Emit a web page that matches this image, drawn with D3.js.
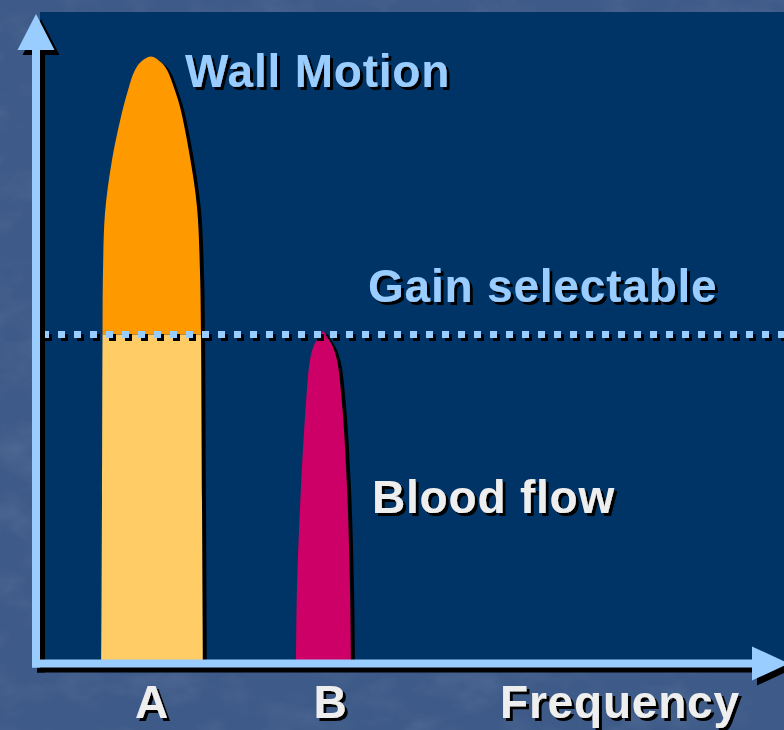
<!DOCTYPE html>
<html>
<head>
<meta charset="utf-8">
<script src="https://cdn.jsdelivr.net/npm/d3@7"></script>
<style>
  html, body { margin: 0; padding: 0; background: #3e5a88; overflow: hidden; }
  svg { display: block; }
  text { font-family: "Liberation Sans", Arial, sans-serif; font-weight: bold; }
</style>
</head>
<body>
<svg></svg>
<script>
// categories on the frequency axis and where their labels sit (frequency units)
const categories = ['A', 'B'];
const categoryFreq = [15.4, 39.2];

// gain threshold (amplitude units, 0-100)
const gainLevel = 50.6;

// outlines of the two spectral peaks: [frequency, amplitude]
const wallMotionProfile = [
  [8.7, 0], [8.8, 25.2], [8.87, 50.85], [8.93, 60.1], [9.2, 69.3], [10.07, 77],
  [11.33, 84.1], [12.27, 88.2], [13.07, 91], [13.93, 92.5], [15.33, 93.4],
  [16.67, 92.5], [17.47, 91.3], [18.27, 89], [19.2, 85.6], [20.53, 77.9],
  [21.47, 70.2], [21.87, 60.1], [22.0, 50.85], [22.13, 25.2], [22.27, 0]
];
const bloodFlowProfile = [
  [34.67, 0], [34.8, 11.77], [35.33, 27.15], [36.0, 40.08], [36.53, 46.7],
  [37.07, 49], [37.73, 50.23], [38.27, 51.1], [38.8, 50.23], [39.47, 49],
  [40.13, 46.7], [40.8, 40.08], [41.47, 27.15], [41.87, 11.77], [42.0, 0]
];

const annotations = ['Wall Motion', 'Gain selectable', 'Blood flow'];
const axisTitle = 'Frequency';

let width = 784;
let height = 730;

let x = d3.scaleLinear().domain([0, 100]).range([36, 786]);
let y = d3.scaleLinear().domain([0, 100]).range([663.5, 13.5]);

let svg = d3.select('svg')
  .attr('width', width)
  .attr('height', height);

let defs = svg.append('defs');

// soft mottled backdrop
let tex = defs.append('filter').attr('id', 'marble')
  .attr('x', 0).attr('y', 0).attr('width', '100%').attr('height', '100%');
tex.append('feTurbulence')
  .attr('type', 'fractalNoise')
  .attr('baseFrequency', '0.02 0.03')
  .attr('numOctaves', 4)
  .attr('seed', 7);
tex.append('feColorMatrix')
  .attr('type', 'matrix')
  .attr('values', '0 0 0 0 0.16  0 0 0 0 0.24  0 0 0 0 0.40  -1.8 0 0 0 1.0');

// text drop shadow
let shadow = defs.append('filter').attr('id', 'shadow')
  .attr('x', '-10%').attr('y', '-10%').attr('width', '130%').attr('height', '140%');
shadow.append('feOffset').attr('in', 'SourceAlpha').attr('dx', 3).attr('dy', 3).attr('result', 'off');
let merge = shadow.append('feMerge');
merge.append('feMergeNode').attr('in', 'off');
merge.append('feMergeNode').attr('in', 'SourceGraphic');

svg.append('rect')
  .attr('width', width).attr('height', height)
  .attr('fill', '#3e5a88');
svg.append('rect')
  .attr('width', width).attr('height', height)
  .attr('filter', 'url(#marble)')
  .attr('opacity', 0.35);

// navy plot panel
svg.append('rect')
  .attr('x', 40).attr('y', 12)
  .attr('width', width - 40).attr('height', y(0) - 12)
  .attr('fill', '#003366');

// clip regions above / below the gain threshold
defs.append('clipPath').attr('id', 'above')
  .append('rect')
  .attr('x', 0).attr('y', 0)
  .attr('width', width).attr('height', y(gainLevel));
defs.append('clipPath').attr('id', 'below')
  .append('rect')
  .attr('x', 0).attr('y', y(gainLevel))
  .attr('width', width).attr('height', height - y(gainLevel));

let line = d3.line()
  .x(d => x(d[0]))
  .y(d => y(d[1]))
  .curve(d3.curveCatmullRom.alpha(0.5));

let peakPath = pts => line(pts) + 'Z';

let peaks = svg.append('g');

// shadows
[wallMotionProfile, bloodFlowProfile].forEach(p => {
  peaks.append('path')
    .attr('d', peakPath(p))
    .attr('transform', 'translate(4,3)')
    .attr('fill', '#000');
});

peaks.append('path')
  .attr('d', peakPath(wallMotionProfile))
  .attr('clip-path', 'url(#above)')
  .attr('fill', '#ff9900');
peaks.append('path')
  .attr('d', peakPath(wallMotionProfile))
  .attr('clip-path', 'url(#below)')
  .attr('fill', '#ffcc66');
peaks.append('path')
  .attr('d', peakPath(bloodFlowProfile))
  .attr('fill', '#cc0066');

// dotted gain line
let gain = svg.append('g');
[['#000', 3], ['#99ccff', 0]].forEach(([c, o]) => {
  gain.append('line')
    .attr('x1', 42 + o).attr('x2', width + 10)
    .attr('y1', y(gainLevel) + o).attr('y2', y(gainLevel) + o)
    .attr('stroke', c)
    .attr('stroke-width', 7)
    .attr('stroke-dasharray', '7 9');
});

// axes with arrowheads
let axes = svg.append('g');
let drawAxes = (g, color) => {
  g.append('line')
    .attr('x1', x(0)).attr('x2', x(0))
    .attr('y1', 48).attr('y2', y(0) + 4)
    .attr('stroke', color).attr('stroke-width', 8);
  g.append('path')
    .attr('d', `M${x(0)},14 L${x(0) - 18.5},50 L${x(0) + 18.5},50 Z`)
    .attr('fill', color);
  g.append('line')
    .attr('x1', x(0) - 4).attr('x2', 754)
    .attr('y1', y(0)).attr('y2', y(0))
    .attr('stroke', color).attr('stroke-width', 8);
  g.append('path')
    .attr('d', `M752,${y(0) - 17} L789,${y(0)} L752,${y(0) + 17} Z`)
    .attr('fill', color);
};
drawAxes(axes.append('g').attr('transform', 'translate(5,5)'), '#000');
drawAxes(axes.append('g'), '#99ccff');

// bold labels with a black drop shadow
let label = (txt, tx, ty, color, anchor) => {
  svg.append('text')
    .attr('x', tx).attr('y', ty)
    .attr('text-anchor', anchor || 'start')
    .attr('font-size', 46)
    .attr('letter-spacing', anchor ? 0 : 0.8)
    .attr('fill', color)
    .attr('filter', 'url(#shadow)')
    .text(txt);
};

label(annotations[0], 185, 87, '#99ccff');
label(annotations[1], 368, 302, '#99ccff');
label(annotations[2], 372, 513, '#eeeeee');

categories.forEach((c, i) => {
  label(c, x(categoryFreq[i]), 718, '#eeeeee', 'middle');
});
label(axisTitle, 500, 718, '#eeeeee');
</script>
</body>
</html>
